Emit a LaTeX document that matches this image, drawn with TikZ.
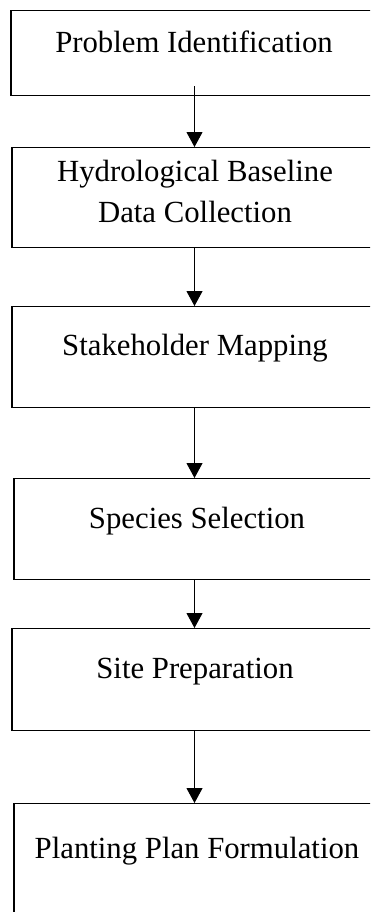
\documentclass[tikz,border=0pt]{standalone}
\usepackage{fontspec}
\setmainfont{Liberation Serif}
\usetikzlibrary{arrows.meta}

\begin{document}
\begin{tikzpicture}[x=0.02cm, y=-0.02cm,
		stepbox/.style={draw, line width=0.7pt, anchor=north, minimum width=7.32cm, inner ysep=0pt, align=center, font=\fontsize{17.5pt}{23.3pt}\selectfont},
		flow/.style={line width=0.6pt, -{Triangle[width=0.32cm, length=0.3cm]}}]
		\clip (0,0) rectangle (370,912);
		\node [stepbox, text height=0.84cm, text depth=0.86cm] (s1) at (194,10) {Problem Identification};
		\node [stepbox, text height=1.50cm, text depth=0.50cm] (s2) at (195,147) {Hydrological Baseline\\Data Collection};
		\node [stepbox, text height=0.98cm, text depth=1.04cm] (s3) at (195,306) {Stakeholder Mapping};
		\node [stepbox, text height=1.00cm, text depth=1.02cm] (s4) at (197,478) {Species Selection};
		\node [stepbox, text height=1.00cm, text depth=1.04cm] (s5) at (195,628) {Site Preparation};
		\node [stepbox, text height=1.10cm, text depth=2.00cm] (s6) at (197,803) {Planting Plan Formulation};
		
		\draw [flow] ([shift={(0.5,-10)}]s1.south) -- ([shift={(0.5,0)}]s1.south |- s2.north);
		\draw [flow] ([shift={(-0.5,0)}]s2.south) -- ([shift={(-0.5,0)}]s2.south |- s3.north);
		\draw [flow] ([shift={(-0.5,0)}]s3.south) -- ([shift={(-0.5,0)}]s3.south |- s4.north);
		\draw [flow] ([shift={(-2.5,0)}]s4.south) -- ([shift={(-2.5,0)}]s4.south |- s5.north);
		\draw [flow] ([shift={(-0.5,0)}]s5.south) -- ([shift={(-0.5,0)}]s5.south |- s6.north);
	\end{tikzpicture}
\end{document}
